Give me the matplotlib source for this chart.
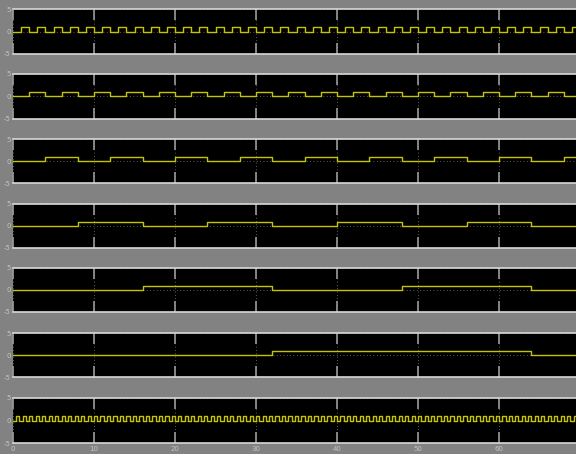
import numpy as np
import matplotlib
matplotlib.use("Agg")
import matplotlib.pyplot as plt

# Scope traces: binary counter bits plus the fast clock (bottom trace)
channel_periods = [2, 4, 8, 16, 32, 64, 0.8]
high_level = 1.0
low_level = 0.0
t_stop = 69.5

xticks = [0, 10, 20, 30, 40, 50, 60]
xtick_labels = ["0", "10", "20", "30", "40", "50", "60"]
yticks = [-5, 0, 5]
ytick_labels = ["-5", "0", "5"]

W, H = 576, 454
fig = plt.figure(figsize=(W / 100, H / 100), dpi=100)
fig.patch.set_facecolor("#828282")

# axes extents in pixels (top, bottom)
panel_px = [(9, 54), (74, 119), (139, 183), (204, 248),
            (268, 312), (333, 377), (398, 443)]
left_px = 13

trace_color = "#c4c400"
label_color = "#c4c4c4"

for i, (period, (top, bot)) in enumerate(zip(channel_periods, panel_px)):
    ax = fig.add_axes([left_px / W, 1 - bot / H, (W - left_px) / W, (bot - top) / H])
    ax.set_facecolor("black")
    half = period / 2
    edges = np.arange(0, t_stop + period, half)
    levels = np.where(np.arange(len(edges)) % 2 == 0, low_level, high_level)
    ax.step(edges, levels, where="post", color=trace_color, lw=1.0, zorder=3)

    ax.set_xlim(0, t_stop)
    ax.set_ylim(-5, 5)
    ax.set_xticks(xticks)
    ax.set_yticks(yticks)
    ax.set_yticklabels(ytick_labels)
    if i == len(channel_periods) - 1:
        ax.set_xticklabels(xtick_labels)
    else:
        ax.set_xticklabels([])

    ax.grid(True, color="#7a7a7a", linestyle=(0, (1, 3)), linewidth=0.6)
    ax.tick_params(axis="x", direction="in", length=8, width=1.2,
                   color="#9a9a9a", top=True, bottom=True,
                   labelsize=5, labelcolor=label_color, pad=2)
    ax.tick_params(axis="y", direction="in", length=0, labelsize=5,
                   labelcolor=label_color, pad=1.5)
    for side in ("left", "right"):
        ax.spines[side].set_visible(False)
    for side in ("top", "bottom"):
        ax.spines[side].set_color("#d8d8d8")
        ax.spines[side].set_linewidth(1.2)

fig.savefig("out.png", dpi=100, facecolor=fig.get_facecolor())
